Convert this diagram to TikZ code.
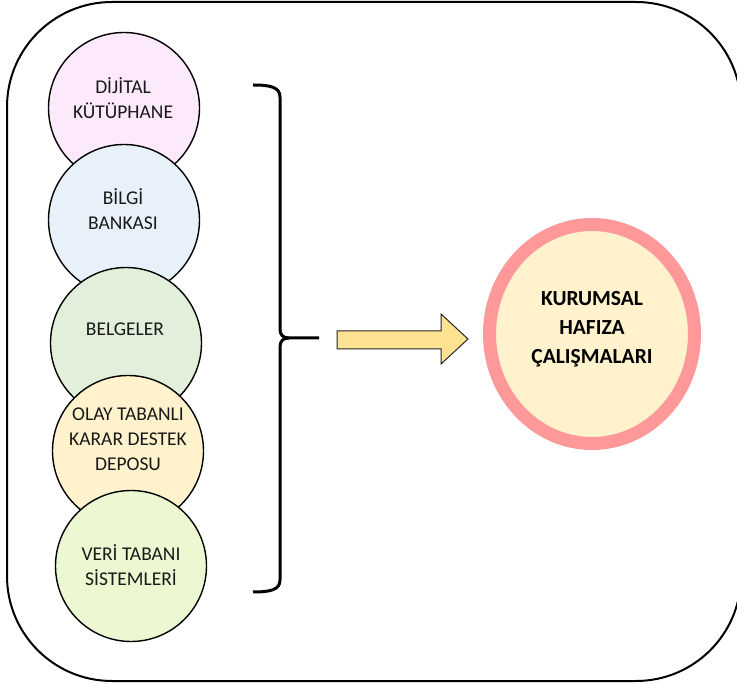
\documentclass[tikz,border=0pt]{standalone}
\usepackage{fontspec}
\setmainfont{Carlito}
\begin{document}
\begin{tikzpicture}[x=1pt,y=-1pt,
  frame/.style={draw=black, line width=2pt, rounded corners=105pt},
  source/.style={circle, draw=black, line width=1.4pt, minimum size=151pt, inner sep=0pt},
  srctext/.style={align=center, text=black!90, font=\fontsize{19.5}{25}\selectfont, inner sep=0pt},
  brace/.style={draw=black, line width=3pt, line join=round},
  blockarrow/.style={draw=black!85, line width=1pt, fill=arrowfill, line join=miter},
  goal/.style={draw=ringred, line width=13pt, fill=goalfill},
  goaltext/.style={align=center, text=black, font=\bfseries\fontsize{21.5}{29}\selectfont, inner sep=0pt}
]
\definecolor{pinkfill}{RGB}{252,233,251}
\definecolor{bluefill}{RGB}{232,241,250}
\definecolor{greenfill}{RGB}{226,239,218}
\definecolor{orangefill}{RGB}{255,242,204}
\definecolor{limefill}{RGB}{235,248,209}
\definecolor{arrowfill}{RGB}{255,226,146}
\definecolor{ringred}{RGB}{255,153,153}
\definecolor{goalfill}{RGB}{255,242,204}

\useasboundingbox (0,0) rectangle (737,684);

% outer frame (its right side runs just past the page edge)
\draw[frame] (7,2) rectangle (741,681);

% stacked source circles (each one overlaps the one above it)
\node[source, fill=pinkfill]   (dijital)  at (124,108) {};
\node[source, fill=bluefill]   (bilgi)    at (124,220) {};
\node[source, fill=greenfill]  (belgeler) at (126,343) {};
\node[source, fill=orangefill] (olay)     at (128,451) {};
\node[source, fill=limefill]   (veri)     at (131,566) {};

\node[srctext] (tdijital)  at (123,98)  {DİJİTAL\\KÜTÜPHANE};
\node[srctext] (tbilgi)    at (123,209) {BİLGİ\\BANKASI};
\node[srctext] (tbelgeler) at (125,329) {BELGELER};
\node[srctext] (tolay)     at (128,439) {OLAY TABANLI\\KARAR DESTEK\\DEPOSU};
\node[srctext] (tveri)     at (131,565) {VERİ TABANI\\SİSTEMLERİ};

% grouping brace
\draw[brace] (253,85) .. controls (270,85) and (280,87) .. (280,97)
  -- (280,329) .. controls (280,335) and (283,338) .. (289,338) -- (319,338);
\draw[brace] (289,338) .. controls (283,338) and (280,341) .. (280,347)
  -- (280,580) .. controls (280,590) and (270,592) .. (253,592);

% block arrow
\draw[blockarrow] (337,331) -- (441,331) -- (441,314) -- (468,339)
  -- (441,364) -- (441,349) -- (337,349) -- cycle;

% target circle
\draw[goal] (592,334) ellipse [x radius=102.5, y radius=109.5];
\node[goaltext] (goal) at (592,329) {KURUMSAL\\HAFIZA\\ÇALIŞMALARI};
\end{tikzpicture}
\end{document}
